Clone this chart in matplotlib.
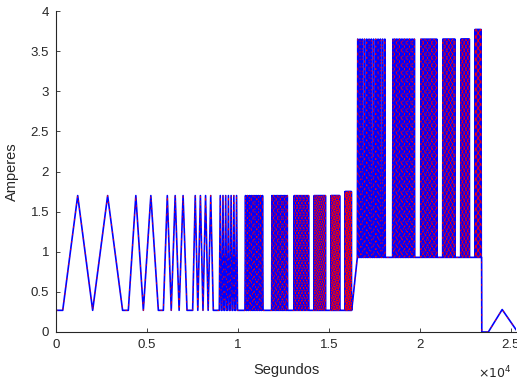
import numpy as np
import matplotlib
matplotlib.use("Agg")
import matplotlib.pyplot as plt

# burst segments: start/end in seconds, number of cycles,
# low and high current levels in amperes, and the share of each cycle spent ramping
burst_start = [370, 3975, 5900, 7510, 8975, 10385, 11850, 13080, 14180, 15110, 15880,
               16560, 18500, 20040, 21250, 22240, 23025]
burst_end = [3660, 5625, 7200, 8645, 10020, 11420, 12765, 13920, 14835, 15605, 16250,
             18170, 19765, 20975, 21965, 22750, 23390]
burst_cycles = [2, 2, 3, 4, 7, 10, 12, 14, 16, 16, 14,
                13, 14, 13, 12, 10, 8]
burst_ramp = [1.0, 1.0, 1.0, 1.0, 0.7, 0.6, 0.55, 0.55, 0.55, 0.55, 0.55,
              0.4, 0.45, 0.5, 0.5, 0.55, 0.6]
burst_low = [0.27] * 11 + [0.93] * 6
burst_high = [1.70] * 10 + [1.75] + [3.65] * 5 + [3.77]

# tail after the last burst: drop to zero, then a slow triangle
tail_t = [23390, 23400, 23760, 24520, 25280]
tail_a = [0.93, 0.0, 0.0, 0.28, 0.03]

xticks = [0, 5000, 10000, 15000, 20000, 25000]
xlabels = ['0', '0.5', '1', '1.5', '2', '2.5']
yticks = [0, 0.5, 1, 1.5, 2, 2.5, 3, 3.5, 4]
ylabels = ['0', '0.5', '1', '1.5', '2', '2.5', '3', '3.5', '4']

# build the vertex list from the segment table
t = [0.0]
a = [burst_low[0]]
for s, e, n, r, lo, hi in zip(burst_start, burst_end, burst_cycles, burst_ramp,
                              burst_low, burst_high):
    t.append(s)
    a.append(lo)
    step = (e - s) / n
    for k in range(n):
        c0 = s + step * k
        t += [c0 + step * r / 2, c0 + step * r, c0 + step]
        a += [hi, lo, lo]
t += tail_t
a += tail_a
t = np.array(t)
a = np.array(a)

grey = '#262626'
plt.rcParams['font.family'] = ['Liberation Sans', 'DejaVu Sans']

fig = plt.figure(figsize=(5.17, 3.83), dpi=100)
ax = fig.add_axes([56 / 517, 51 / 383, 460 / 517, 321 / 383])

ax.plot(t, a, color='#0000ff', linewidth=1.2)
ax.plot(t, a, color='red', linewidth=0.6, linestyle=(0, (2, 7)))

ax.set_xlim(0, 25280)
ax.set_ylim(0, 4)
ax.set_xticks(xticks)
ax.set_xticklabels(xlabels)
ax.set_yticks(yticks)
ax.set_yticklabels(ylabels)

for side in ['top', 'right']:
    ax.spines[side].set_visible(False)
for side in ['left', 'bottom']:
    ax.spines[side].set_color(grey)
    ax.spines[side].set_linewidth(0.8)
ax.tick_params(direction='in', length=3, width=0.6, colors=grey, labelsize=9.5, pad=5)

ax.set_xlabel('Segundos', fontsize=10.5, color=grey, labelpad=9)
ax.set_ylabel('Amperes', fontsize=10.5, color=grey, labelpad=8)
fig.text(478 / 517, 1 - 373 / 383, r'$\times10^{4}$', fontsize=9, color=grey,
         va='center', ha='left')

fig.savefig('out.png', dpi=100)
